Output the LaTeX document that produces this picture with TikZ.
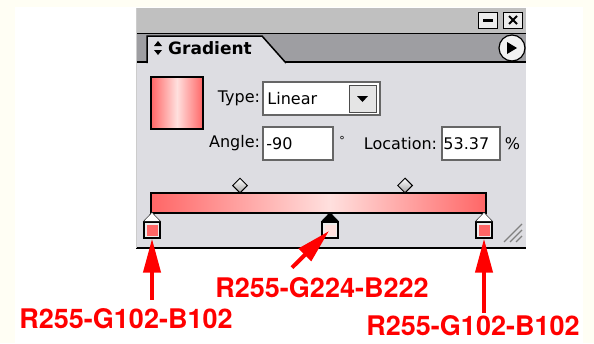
\documentclass[tikz,border=0pt]{standalone}
\usepackage{fontspec}
\setmainfont{DejaVu Sans}
\newfontfamily\labelfont{TeX Gyre Heros}
\usetikzlibrary{arrows.meta,positioning,shapes.geometric}

\definecolor{panelgray}{RGB}{221,221,226}
\definecolor{titlegray}{RGB}{192,192,192}
\definecolor{tabgray}{RGB}{158,158,162}
\definecolor{stopred}{RGB}{255,102,102}
\definecolor{stoppink}{RGB}{255,224,222}
\definecolor{cream}{RGB}{255,254,244}

\tikzset{
	paneltext/.style={font=\fontsize{16}{19}\selectfont, inner sep=1pt},
	field/.style={draw=gray!80!black, fill=white, line width=1.5, inner sep=0pt},
	winbtn/.style={draw=black, fill=gray!15, line width=1, minimum width=19, minimum height=16, inner sep=0pt},
	midknob/.style={diamond, draw=black, line width=1, minimum size=15, inner sep=0pt, top color=white, bottom color=gray!70},
	stopbox/.style={draw=black, line width=1.2, fill=gray!15, minimum size=16, inner sep=0pt,
		path picture={\fill[#1] ([shift={(2.5pt,2.5pt)}]path picture bounding box.south west) rectangle ([shift={(-2.5pt,-2.5pt)}]path picture bounding box.north east);}},
	redlabel/.style={font=\labelfont\bfseries\fontsize{27}{30}\selectfont, text=red, inner sep=0pt},
	redarrow/.style={draw=red, line width=4pt, -{Triangle[length=34pt,width=17pt]}}
}

\begin{document}
\begin{tikzpicture}[x=1pt,y=-1pt]
	\fill[cream] (0,0) rectangle (594,343);
	\fill[white] (15,7) rectangle (583,343);
	\useasboundingbox (0,0) rectangle (594,343);

	% panel
	\fill[panelgray] (136,8) rectangle (526,248);
	\fill[titlegray] (137,8) rectangle (526,33);
	\fill[tabgray] (137,34) rectangle (526,62);
	\draw[line width=1.5] (137,33.5) -- (526,33.5);
	\draw[line width=1.5] (137,62) -- (147,62);
	\draw[line width=1.5] (285,62) -- (526,62);
	\filldraw[fill=panelgray, line width=1.5] (147,63) -- (147,36) -- (262,36) -- (286,63);
	\draw[line width=2] (136,248) -- (526,248);
	\draw[gray!40] (136,8) -- (136,248);

	% title bar and tab
	\node[winbtn] (minbtn) at (488,20) {};
	\fill ([xshift=-5pt,yshift=1pt]minbtn.center) rectangle ([xshift=5pt,yshift=-2pt]minbtn.center);
	\node[winbtn] (closebtn) at (513,20) {};
	\draw[line width=2] ([shift={(-4pt,-4pt)}]closebtn.center) -- ([shift={(4pt,4pt)}]closebtn.center);
	\draw[line width=2] ([shift={(-4pt,4pt)}]closebtn.center) -- ([shift={(4pt,-4pt)}]closebtn.center);
	\node[circle, draw, fill=gray!10, line width=1.2, minimum size=26] (menubtn) at (512,48) {};
	\fill (507,42) -- (517,48) -- (507,54) -- cycle;
	\fill (154,46) -- (158,41) -- (162,46) -- cycle;
	\fill (154,50) -- (162,50) -- (158,55) -- cycle;
	\node[font=\bfseries\fontsize{17}{20}\selectfont, anchor=west, inner sep=0pt] (title) at (168,48) {Gradient};

	% swatch
	\shade[left color=stopred, right color=stoppink] (151,77) rectangle (177,129);
	\shade[left color=stoppink, right color=stopred] (177,77) rectangle (203,129);
	\draw[line width=1.5] (151,77) rectangle (203,129);

	% type, angle, location
	\node[field, minimum width=117, minimum height=33] (typebox) at (321.5,98.5) {};
	\node[draw=gray!60!black, fill=gray!20, minimum width=27, minimum height=27, inner sep=0pt] (typebtn) at (362.5,98.5) {};
	\fill (357,96) -- (368,96) -- (362.5,102) -- cycle;
	\node[paneltext, anchor=west] (typeval) at ([xshift=4pt]typebox.west) {Linear};
	\node[paneltext, left=1pt of typebox] (typelbl) {Type:};

	\node[field, minimum width=70, minimum height=33] (anglebox) at (298,143.5) {};
	\node[paneltext, anchor=west] (angleval) at ([xshift=3pt]anglebox.west) {-90};
	\node[paneltext, left=1pt of anglebox] (anglelbl) {Angle:};
	\node[font=\fontsize{11}{13}\selectfont, inner sep=0pt] (deg) at (342,140) {°};

	\node[field, minimum width=58, minimum height=33] (locbox) at (471,143.5) {};
	\node[paneltext, anchor=west] (locval) at ([xshift=1pt]locbox.west) {53.37};
	\node[paneltext, left=3pt of locbox] (loclbl) {Location:};
	\node[paneltext, right=3pt of locbox] (pct) {\%};

	% gradient bar
	\shade[left color=stopred, right color=stoppink] (151,193) rectangle (330,213);
	\shade[left color=stoppink, right color=stopred] (330,193) rectangle (486,213);
	\draw[line width=1.5] (151,193) rectangle (486,213);
	\node[midknob] (knobA) at (240,185.5) {};
	\node[midknob] (knobB) at (405,185.5) {};

	% stops
	\node[stopbox=stopred] (stopL) at (152,230) {};
	\node[stopbox=stoppink] (stopM) at (330,230) {};
	\node[stopbox=stopred] (stopR) at (484,230) {};
	\filldraw[fill=white] (stopL.north west) -- ([yshift=9pt]stopL.north) -- (stopL.north east) -- cycle;
	\filldraw[fill=black] (stopM.north west) -- ([yshift=9pt]stopM.north) -- (stopM.north east) -- cycle;
	\filldraw[fill=white] (stopR.north west) -- ([yshift=9pt]stopR.north) -- (stopR.north east) -- cycle;

	% resize grip
	\foreach \d in {0,6,12}
		\draw[gray, line width=1.2] (504+\d,242) -- (522,224+\d);

	% labels and arrows
	\node[redlabel] (lblM) at (322,288) {R255-G224-B222};
	\node[redlabel] (lblL) at (126,319) {R255-G102-B102};
	\node[redlabel] (lblR) at (473,326) {R255-G102-B102};
	\draw[redarrow] ([yshift=9pt]lblL.north -| stopL) -- (stopL.south);
	\draw[redarrow] ([xshift=-30pt,yshift=10pt]lblM.north) -- ([shift={(-1pt,-1pt)}]stopM.center);
	\draw[redarrow] ([yshift=3pt]lblR.north -| stopR) -- (stopR.south);
\end{tikzpicture}
\end{document}
